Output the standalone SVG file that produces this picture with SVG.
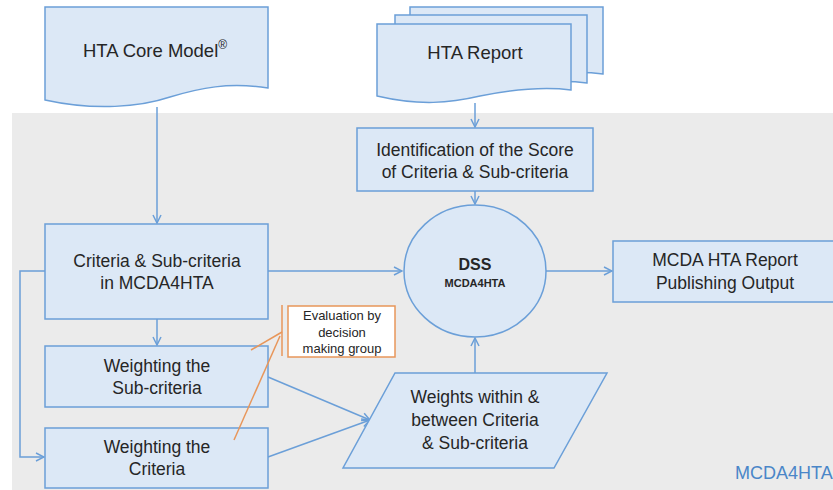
<svg xmlns="http://www.w3.org/2000/svg" width="833" height="490" viewBox="0 0 833 490">
  <style>
    .box { fill: #dce8f6; stroke: #6b9fd8; stroke-width: 1.5; }
    .txt { font-family: "Liberation Sans", Arial, sans-serif; font-size: 17.5px; fill: #262626; text-anchor: middle; }
    .big { font-size: 18.5px; }
    .dss { font-size: 16px; font-weight: bold; }
    .dss-sub { font-size: 11px; font-weight: bold; }
    .ev { font-size: 13px; }
    .conn { fill: none; stroke: #6b9fd8; stroke-width: 1.5; }
    .note { fill: none; stroke: #e8965a; stroke-width: 1.5; }
  </style>
  <defs>
    <marker id="arrow" viewBox="0 0 10 10" refX="9" refY="5" markerWidth="10" markerHeight="10" markerUnits="userSpaceOnUse" orient="auto">
      <path d="M1,1 L9,5 L1,9" fill="none" stroke="#6b9fd8" stroke-width="1.5"/>
    </marker>
  </defs>

  <!-- background panel -->
  <rect x="0" y="0" width="833" height="490" fill="#ffffff"/>
  <rect x="12" y="113" width="821" height="377" fill="#ebebeb"/>

  <!-- connectors -->
  <g id="connectors">
    <line class="conn" x1="157" y1="107" x2="157" y2="223" marker-end="url(#arrow)"/>
    <line class="conn" x1="475" y1="103" x2="475" y2="127" marker-end="url(#arrow)"/>
    <line class="conn" x1="475" y1="191" x2="475" y2="204" marker-end="url(#arrow)"/>
    <line class="conn" x1="268" y1="271" x2="402" y2="271" marker-end="url(#arrow)"/>
    <line class="conn" x1="546" y1="271" x2="612" y2="271" marker-end="url(#arrow)"/>
    <line class="conn" x1="157" y1="319" x2="157" y2="345" marker-end="url(#arrow)"/>
    <polyline class="conn" points="45,271 20,271 20,457 44,457" marker-end="url(#arrow)"/>
    <line class="conn" x1="268" y1="377" x2="370" y2="420" marker-end="url(#arrow)"/>
    <line class="conn" x1="268" y1="457" x2="370" y2="420" marker-end="url(#arrow)"/>
    <line class="conn" x1="475" y1="373" x2="475" y2="338" marker-end="url(#arrow)"/>
  </g>

  <!-- HTA Core Model document -->
  <g id="hta-core-model">
    <path class="box" d="M45,7 H268 V88 C228,82 200,88 170,97 C140,107 95,111 45,100 Z"/>
    <text class="txt big" x="155" y="57">HTA Core Model<tspan font-size="12" dy="-8">®</tspan></text>
  </g>

  <!-- HTA Report (stack of documents) -->
  <g id="hta-report">
    <path class="box" d="M410,7 H603 V74 C572,70 542,74 512,80 C482,87 452,90 410,80 Z"/>
    <path class="box" d="M395,15 H587 V83 C556,79 526,83 496,89 C466,96 436,99 395,89 Z"/>
    <path class="box" d="M377,24 H571 V90 C540,86 510,90 480,96 C450,103 420,106 377,96 Z"/>
    <text class="txt big" x="475" y="59">HTA Report</text>
  </g>

  <!-- Identification of the score -->
  <g id="identification">
    <rect class="box" x="357" y="128" width="236" height="63"/>
    <text class="txt" x="475" y="156">Identification of the Score</text>
    <text class="txt" x="475" y="178">of Criteria &amp; Sub-criteria</text>
  </g>

  <!-- DSS -->
  <g id="dss">
    <ellipse class="box" cx="475" cy="271" rx="71" ry="66"/>
    <text class="txt dss" x="475" y="270">DSS</text>
    <text class="txt dss-sub" x="475" y="287">MCDA4HTA</text>
  </g>

  <!-- MCDA HTA Report -->
  <g id="mcda-report">
    <rect class="box" x="613" y="241" width="230" height="61"/>
    <text class="txt" x="725" y="266">MCDA HTA Report</text>
    <text class="txt" x="725" y="289">Publishing Output</text>
  </g>

  <!-- Criteria & Sub-criteria -->
  <g id="criteria">
    <rect class="box" x="45" y="224" width="223" height="95"/>
    <text class="txt" x="157" y="267">Criteria &amp; Sub-criteria</text>
    <text class="txt" x="157" y="289">in MCDA4HTA</text>
  </g>

  <!-- Weighting the Sub-criteria -->
  <g id="weight-sub">
    <rect class="box" x="45" y="346" width="223" height="61"/>
    <text class="txt" x="157" y="372">Weighting the</text>
    <text class="txt" x="157" y="394">Sub-criteria</text>
  </g>

  <!-- Weighting the Criteria -->
  <g id="weight-crit">
    <rect class="box" x="45" y="428" width="223" height="60"/>
    <text class="txt" x="157" y="453">Weighting the</text>
    <text class="txt" x="157" y="475">Criteria</text>
  </g>

  <!-- Weights within & between -->
  <g id="weights">
    <polygon class="box" points="395,373 607,373 554,468 343,468"/>
    <text class="txt" x="475" y="403">Weights within &amp;</text>
    <text class="txt" x="475" y="426">between Criteria</text>
    <text class="txt" x="475" y="449">&amp; Sub-criteria</text>
  </g>

  <!-- Evaluation callout -->
  <g id="evaluation">
    <rect x="288" y="306" width="107" height="51" fill="#ffffff" stroke="#e8965a" stroke-width="1.5"/>
    <line class="note" x1="282" y1="305" x2="282" y2="356"/>
    <line class="note" x1="282" y1="332" x2="251" y2="350"/>
    <line class="note" x1="280" y1="336" x2="234" y2="440"/>
    <text class="txt ev" x="342" y="320">Evaluation by</text>
    <text class="txt ev" x="342" y="337">decision</text>
    <text class="txt ev" x="342" y="353">making group</text>
  </g>

  <!-- panel label -->
  <text x="735" y="479" font-family="Liberation Sans, Arial, sans-serif" font-size="18" fill="#4a86c8">MCDA4HTA</text>
</svg>
